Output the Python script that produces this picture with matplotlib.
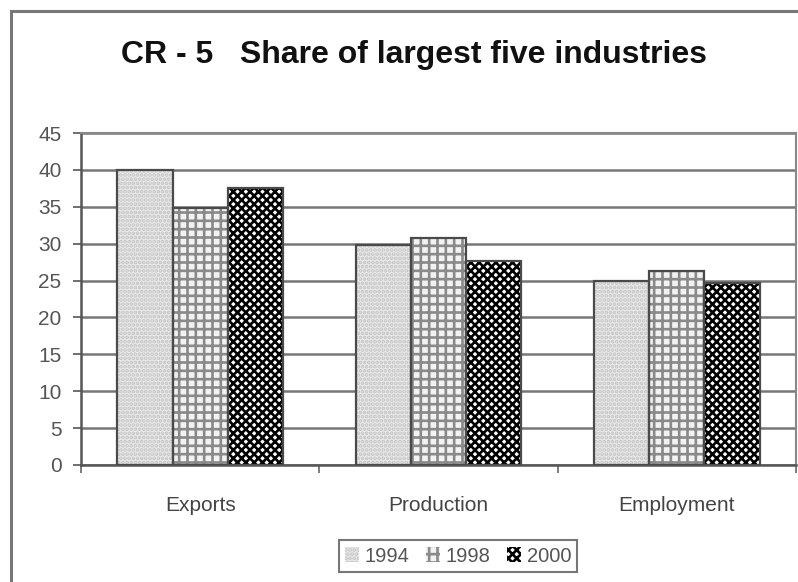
import matplotlib
matplotlib.use('Agg')
import matplotlib.pyplot as plt
import numpy as np
from matplotlib.patches import Rectangle

plt.rcParams['font.family'] = ['Liberation Sans', 'DejaVu Sans']

# data
categories = ['Exports', 'Production', 'Employment']
years = ['1994', '1998', '2000']
v1994 = [40.0, 29.8, 25.0]
v1998 = [34.8, 30.8, 26.3]
v2000 = [37.5, 27.6, 24.7]
yticks = list(range(0, 50, 5))

series = [v1994, v1998, v2000]
faces = ['#e9e9e9', '#f2f2f2', '#ffffff']
hatch_cols = ['#c4c4c4', '#8a8a8a', '#000000']
hatches = ['....', '++', 'xxxx']

fig = plt.figure(figsize=(7.98, 5.82), dpi=100)
ax = fig.add_axes([81 / 798, 117 / 582, 715 / 798, 332 / 582])

x = np.arange(len(categories))
w = 0.232
plt.rcParams['hatch.linewidth'] = 1.9
handles = []
for i, vals in enumerate(series):
    pos = x + (i - 1) * w
    b = ax.bar(pos, vals, w, color=faces[i], edgecolor=hatch_cols[i],
               hatch=hatches[i], linewidth=0, zorder=3)
    ax.bar(pos, vals, w, fill=False, edgecolor='#4a4a4a', linewidth=1.6, zorder=4)
    handles.append(b)

ax.set_ylim(0, 45)
ax.set_xlim(-0.5, 2.5)
ax.set_yticks(yticks)
ax.yaxis.grid(True, color='#777777', linewidth=1.8, zorder=0)
ax.set_axisbelow(True)

ax.set_xticks(x)
ax.set_xticklabels(categories)
ax.set_xticks([-0.5, 0.5, 1.5, 2.5], minor=True)
ax.tick_params(axis='x', which='major', length=0, pad=22, labelsize=15, labelcolor='#444444')
ax.tick_params(axis='x', which='minor', length=6, width=1.2, color='#666666', direction='out')
ax.tick_params(axis='y', length=6, width=1.2, color='#555555', labelsize=15,
               labelcolor='#555555', pad=8)

for s in ['top', 'right']:
    ax.spines[s].set_color('#888888')
    ax.spines[s].set_linewidth(1.5)
for s in ['left', 'bottom']:
    ax.spines[s].set_color('#555555')
    ax.spines[s].set_linewidth(1.8)

fig.text(414 / 798, 1 - 55 / 582, 'CR - 5   Share of largest five industries',
         ha='center', va='center', fontsize=23, fontweight='bold', color='#111111')

leg = fig.legend(handles, years, loc='center', bbox_to_anchor=(458 / 798, 1 - 556 / 582),
                 ncol=3, fontsize=14.5, frameon=True, fancybox=False, borderpad=0.3,
                 handlelength=0.7, handleheight=0.7, handletextpad=0.3, columnspacing=0.8)
leg.get_frame().set_edgecolor('#555555')
leg.get_frame().set_linewidth(1.5)
for t in leg.get_texts():
    t.set_color('#555555')

# outer chart frame
fig.patches.append(Rectangle((11 / 798, -0.05), 1.0, 1 - 11 / 582 + 0.05,
                             transform=fig.transFigure, fill=False,
                             edgecolor='#777777', linewidth=2.2))

fig.savefig('out.png', dpi=100)
